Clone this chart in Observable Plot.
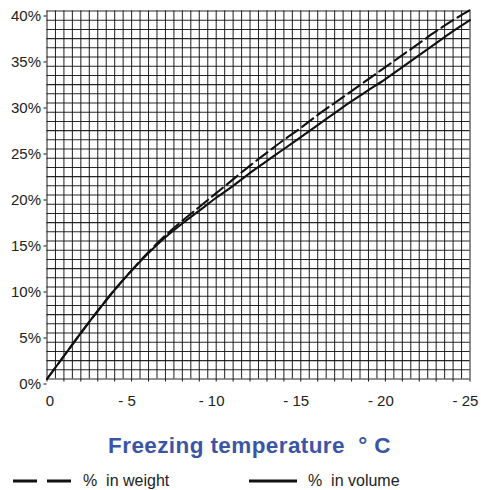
<!DOCTYPE html>
<html>
<head>
<meta charset="utf-8">
<script src="https://cdn.jsdelivr.net/npm/d3@7"></script>
<script src="https://cdn.jsdelivr.net/npm/@observablehq/plot@0.6"></script>
<style>
  html, body { margin: 0; padding: 0; background: #fff; }
  body { width: 481px; height: 490px; overflow: hidden; font-family: "Liberation Sans", Arial, Helvetica, sans-serif; }
  #title { text-align: center; color: #3b55a6; font-weight: bold; font-size: 22.5px; letter-spacing: 0.4px;
           line-height: 26px; margin-top: 18px; padding-left: 18px; white-space: pre; }
  #legend { position: relative; height: 20px; margin-top: 12px; font-size: 16px; color: #222; }
  .item { position: absolute; top: 0; display: flex; align-items: center; height: 20px; white-space: pre; }
  .item svg { display: block; }
</style>
</head>
<body>
<div id="chart"></div>
<div id="title">Freezing temperature  ° C</div>
<div id="legend">
  <div class="item" style="left:13px"><svg width="60" height="6"><line x1="0" y1="3" x2="60" y2="3" stroke="#111" stroke-width="3.2" stroke-dasharray="24,10"/></svg><span style="margin-left:10px">%  in weight</span></div>
  <div class="item" style="left:249px"><svg width="48" height="6"><line x1="0" y1="3" x2="48" y2="3" stroke="#111" stroke-width="3.2"/></svg><span style="margin-left:11px">%  in volume</span></div>
</div>
<script>
// Freezing temperature (°C) — data
const temps = [0, -1, -2, -3, -4, -5, -6, -7, -8, -9, -10, -11, -12, -13, -14, -15, -16, -17, -18, -19, -20, -21, -22, -23, -24, -25];
const weightPct = [0, 2.5, 5.0, 7.4, 9.7, 11.8, 13.8, 15.6, 17.2, 18.7, 20.2, 21.7, 23.2, 24.6, 26.0, 27.3, 28.7, 30.0, 31.3, 32.6, 33.9, 35.2, 36.5, 37.8, 39.0, 40.1];
const volumePct = [0, 2.5, 5.0, 7.4, 9.7, 11.8, 13.7, 15.4, 16.9, 18.3, 19.7, 21.0, 22.4, 23.7, 25.0, 26.3, 27.6, 28.9, 30.2, 31.4, 32.6, 33.9, 35.2, 36.5, 37.8, 39.0];
const xTickValues = [0, -5, -10, -15, -20, -25];
const yTickValues = [0, 5, 10, 15, 20, 25, 30, 35, 40];
const xMinorTicks = d3.range(0, -25.5, -1);
const gridXValues = d3.range(0, -25.25, -0.5);
const gridYValues = d3.range(0, 40.5, 1);

const weight = temps.map((t, i) => ({t, p: weightPct[i]}));
const volume = temps.map((t, i) => ({t, p: volumePct[i]}));

const chart = Plot.plot({
  width: 481,
  height: 415,
  marginLeft: 46.5,
  marginRight: 11.5,
  marginTop: 10.5,
  marginBottom: 36.5,
  style: {fontFamily: '"Liberation Sans", Arial, Helvetica, sans-serif', background: "#fff", color: "#222"},
  x: {domain: [0, -25]},
  y: {domain: [0, 40]},
  marks: [
    Plot.ruleX(gridXValues, {stroke: "#111", strokeWidth: 1.05, strokeOpacity: 0.9}),
    Plot.ruleY(gridYValues, {stroke: "#111", strokeWidth: 1.05, strokeOpacity: 0.9}),
    Plot.axisY(yTickValues, {tickSize: 3, tickPadding: 3, tickFormat: d => d + "%", fontSize: 15, dy: 5, label: null, stroke: "#111"}),
    Plot.axisX(xMinorTicks, {tickSize: 3, tickFormat: () => "", label: null, stroke: "#111"}),
    Plot.text(xTickValues.filter(d => d === 0), {x: d => d, text: d => "0", frameAnchor: "bottom", dy: 26.5, dx: 3, fontSize: 15, fill: "#222"}),
    Plot.text(xTickValues.filter(d => d !== 0), {x: d => d, text: d => "- " + Math.abs(d), frameAnchor: "bottom", dy: 26.5, dx: -4.6, fontSize: 15, fill: "#222"}),
    Plot.line(weight, {x: "t", y: "p", stroke: "#111", strokeWidth: 2.1, strokeDasharray: "14,5", curve: "monotone-x"}),
    Plot.line(volume, {x: "t", y: "p", stroke: "#111", strokeWidth: 2.1, curve: "monotone-x"})
  ]
});
document.getElementById("chart").appendChild(chart);
</script>
</body>
</html>
